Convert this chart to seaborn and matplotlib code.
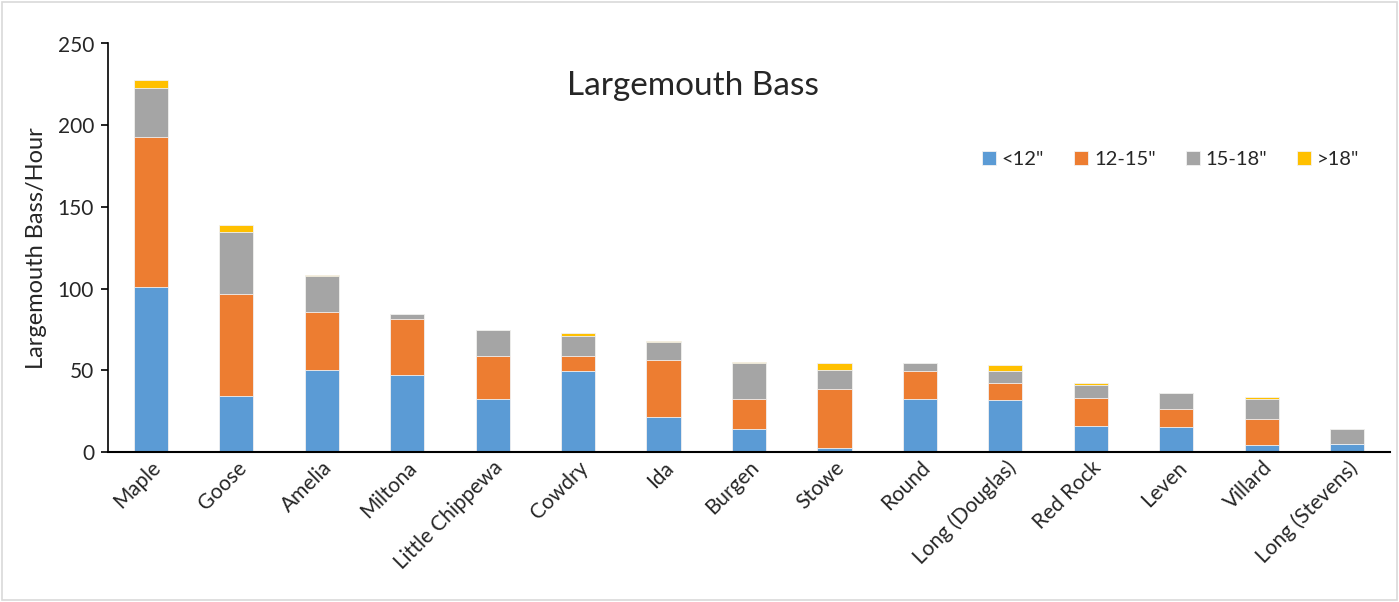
import matplotlib
matplotlib.use('Agg')
import matplotlib.pyplot as plt
import seaborn as sns
import numpy as np
import pandas as pd
from matplotlib.patches import Rectangle


"""
1. Data read off the reference chart
"""
lakes = ['Maple', 'Goose', 'Amelia', 'Miltona', 'Little Chippewa', 'Cowdry',
         'Ida', 'Burgen', 'Stowe', 'Round', 'Long (Douglas)', 'Red Rock',
         'Leven', 'Villard', 'Long (Stevens)']
under_12 = [101, 34.3, 50.2, 47.1, 32.2, 49.8, 21.2, 14.3, 2.7, 32.7, 32.0, 16.1, 15.1, 4.5, 4.9]
from_12_15 = [92, 62.2, 35.3, 34.5, 26.8, 9.2, 35.3, 17.9, 36.1, 17.1, 10.4, 17.2, 11.4, 15.9, 0]
from_15_18 = [30, 38.4, 22.1, 3.1, 15.5, 12.2, 10.6, 22.1, 11.6, 4.5, 7.2, 7.7, 9.8, 12.3, 9.0]
over_18 = [4.5, 4.1, 0.8, 0, 0, 1.7, 0.9, 0.8, 4.3, 0, 3.5, 1.0, 0, 1.2, 0]

size_classes = ['<12"', '12-15"', '15-18"', '>18"']
colors = ['#5B9BD5', '#ED7D31', '#A5A5A5', '#FFC000']

df = pd.DataFrame({'lake': lakes, '<12"': under_12, '12-15"': from_12_15,
                   '15-18"': from_15_18, '>18"': over_18})

# cumulative heights so the stacks can be drawn back to front
cum = df[size_classes].cumsum(axis=1)


"""
2. Plot
"""
sns.set_style('white')
plt.rcParams['font.family'] = ['Lato', 'DejaVu Sans']

fig = plt.figure(figsize=(13.99, 6.02), dpi=100)
ax = fig.add_axes([108 / 1399, 1 - 452 / 602, 1282 / 1399, (452 - 43.5) / 602])

for cls, col in reversed(list(zip(size_classes, colors))):
    sns.barplot(x=df['lake'], y=cum[cls], color=col, width=0.4, saturation=1,
                edgecolor='#f2f2f2', linewidth=0.6, label=cls, ax=ax)

ax.set_ylim(0, 250)
ax.set_xlim(-0.5, len(lakes) - 0.5)
ax.set_yticks(np.arange(0, 251, 50))
ax.set_xlabel('')
ax.set_ylabel('Largemouth Bass/Hour', fontsize=17, labelpad=8)
ax.tick_params(axis='y', direction='out', length=5, width=1.2, color='black',
               labelsize=15, left=True, pad=5)
ax.tick_params(axis='x', length=0, labelsize=15, pad=4)
plt.setp(ax.get_xticklabels(), rotation=45, ha='right', rotation_mode='anchor')

sns.despine(ax=ax)
ax.spines['left'].set_color('black')
ax.spines['bottom'].set_color('black')
ax.spines['left'].set_linewidth(1.2)
ax.spines['bottom'].set_linewidth(1.5)

ax.text(0.456, 0.895, 'Largemouth Bass', transform=ax.transAxes,
        ha='center', va='center', fontsize=24)

handles, labels = ax.get_legend_handles_labels()
order = [labels.index(c) for c in size_classes]
ax.legend([handles[i] for i in order], [labels[i] for i in order],
          loc='center', bbox_to_anchor=(0.829, 0.715), ncol=4, frameon=False,
          fontsize=14.5, handlelength=0.68, handleheight=0.68, handletextpad=0.3,
          columnspacing=1.5)

# light chart border
fig.patches.append(Rectangle((2 / 1399, 2 / 602), 1 - 4 / 1399, 1 - 4 / 602,
                             transform=fig.transFigure, fill=False,
                             edgecolor='#d9d9d9', linewidth=1.2))

plt.savefig('out.png', dpi=100)
